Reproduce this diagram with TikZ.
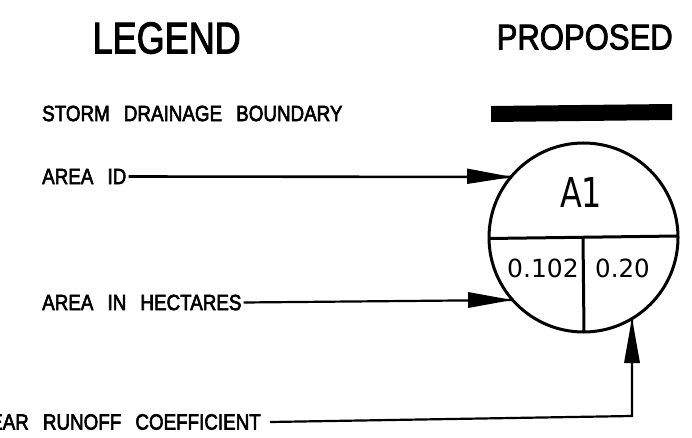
\documentclass[tikz,border=0pt]{standalone}
\usepackage{fontspec}
\setmainfont{Liberation Sans}
\newfontfamily\cadb[FakeBold=3]{Liberation Sans}
\newfontfamily\cadh[FakeBold=2.5]{Liberation Sans}
\newfontfamily\cadt{DejaVu Sans}
\newcommand{\wgap}{\hspace{.75em}}
\newcommand{\lab}[1]{\scalebox{.855}[1]{\fontsize{22}{24}\cadb\selectfont #1}}
\begin{document}
\begin{tikzpicture}[x=1pt,y=-1pt,
lbl/.style={anchor=west,inner sep=0pt},
ttl/.style={anchor=south west,inner sep=0pt},
ln/.style={line width=2.2pt},
div/.style={line width=3pt},
tip/.style={fill=black,draw=none}]
\useasboundingbox (0,0) rectangle (692,438);
\node[ttl] (leg) at (92.5,54) {\resizebox{148pt}{31pt}{\cadh LEGEND}};
\node[ttl] (prop) at (496.5,50) {\resizebox{176pt}{25pt}{\cadh PROPOSED}};
\node[lbl] (sdb) at (42,113.5) {\lab{STORM\wgap DRAINAGE\wgap BOUNDARY}};
\fill (491,106) -- (672,104) -- (672,120) -- (491,122) -- cycle;
\node[lbl] (aid) at (42,176.5) {\lab{AREA\wgap ID}};
\node[lbl] (aha) at (42,302.5) {\lab{AREA\wgap IN\wgap HECTARES}};
\node[lbl,anchor=east] (rc) at (261,422) {\lab{YEAR\wgap RUNOFF\wgap COEFFICIENT}};
\node[circle,draw,line width=3pt,minimum size=189pt,inner sep=0pt] (c) at (583.5,237.5) {};
\coordinate (cl) at (489,238.5);
\coordinate (cr) at (678,236);
\coordinate (cm) at (583,237);
\coordinate (cb) at (584,332);
\draw[div] (cl) -- (cr);
\draw[div] (cm) -- (cb);
\node[inner sep=0pt,anchor=south west] (a1) at (560,208) {\resizebox{42pt}{30pt}{\cadt A1}};
\node[inner sep=0pt,anchor=base west] (n1) at (507,277) {\fontsize{25}{28}\cadt\selectfont 0.102};
\node[inner sep=0pt,anchor=base west] (n2) at (595,277) {\scalebox{.98}[1]{\fontsize{25}{28}\cadt\selectfont 0.20}};
\coordinate (t1) at (512,177);
\coordinate (t2) at (512,300);
\coordinate (t3) at (632,318);
\coordinate (e3) at (632,416);
\draw[line width=2.6pt] ([xshift=2pt]aid.east) -- (t1);
\fill[tip] (t1) -- (467,168.5) -- (467,184) -- cycle;
\draw[ln] ([xshift=2pt]aha.east) -- (t2);
\fill[tip] (t2) -- (468,292) -- (468,308) -- cycle;
\draw[ln,line join=miter] ([xshift=9pt]rc.east) -- (e3) -- (t3);
\fill[tip] (t3) -- (624,363) -- (640,363) -- cycle;
\end{tikzpicture}
\end{document}
